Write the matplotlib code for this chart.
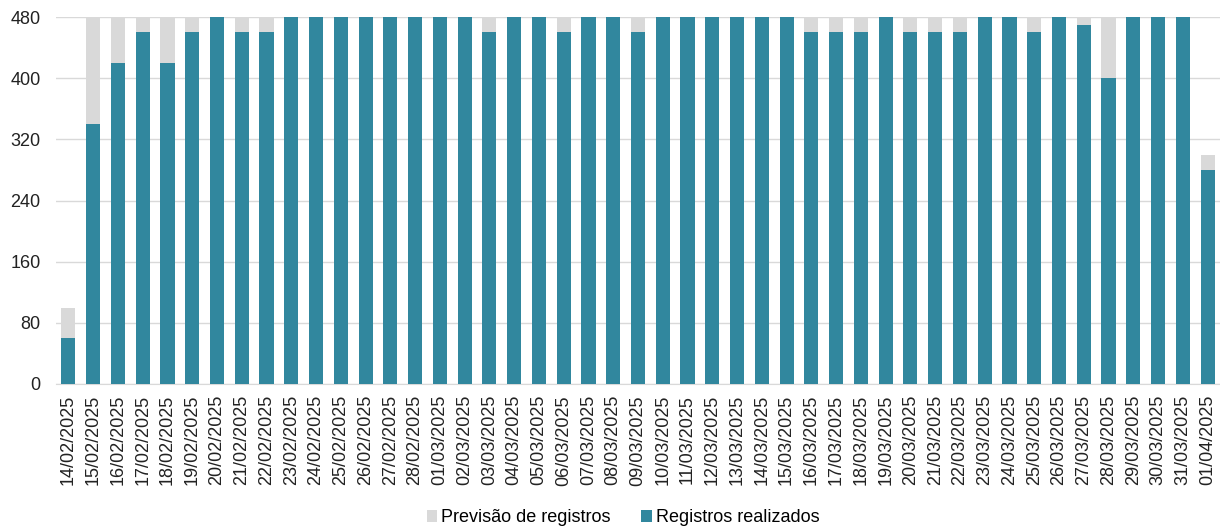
import matplotlib
matplotlib.use("Agg")
import matplotlib.pyplot as plt
import pandas as pd

plt.rcParams['font.family'] = ['Liberation Sans', 'DejaVu Sans']

datas = [d.strftime('%d/%m/%Y') for d in pd.date_range('2025-02-14', '2025-04-01')]
previsao = [100] + [480] * 45 + [300]
realizados = [60, 340, 420, 460, 420, 460, 480, 460, 460,
              480, 480, 480, 480, 480, 480, 480, 480,
              460, 480, 480, 460, 480, 480, 460,
              480, 480, 480, 480, 480, 480,
              460, 460, 460, 480, 460, 460, 460, 480, 480, 460,
              480, 470, 400, 480, 480, 480, 280]

GRAY = '#D9D9D9'
TEAL = '#31879E'

fig = plt.figure(figsize=(12.2, 5.29), dpi=100)
ax = fig.add_axes([56/1220, 1 - 384/529, (1220 - 56)/1220, (384 - 17)/529])
x = range(len(datas))
ax.bar(x, previsao, width=0.57, color=GRAY, label='Previsão de registros', zorder=2)
ax.bar(x, realizados, width=0.57, color=TEAL, label='Registros realizados', zorder=3)

ax.set_xlim(-0.5, len(datas) - 0.5)
ax.set_ylim(0, 480)
ax.set_yticks(range(0, 481, 80))
ax.set_xticks(list(x))
ax.set_xticklabels(datas, rotation=90, fontsize=13, color='#222222')
ax.tick_params(axis='y', labelsize=13, colors='#222222', length=0, pad=11)
ax.tick_params(axis='x', length=0, pad=8)
ax.grid(axis='y', color='#D9D9D9', linewidth=1, zorder=0)
for s in ['top', 'right', 'left']:
    ax.spines[s].set_visible(False)
ax.spines['bottom'].set_color('#D9D9D9')

leg = fig.legend(loc='center', bbox_to_anchor=(623/1220, 1 - 518/529), ncol=2, frameon=False,
                 fontsize=13, handlelength=0.6, handleheight=0.6, handletextpad=0.2,
                 columnspacing=1.7)
fig.savefig('out.png', dpi=100)
